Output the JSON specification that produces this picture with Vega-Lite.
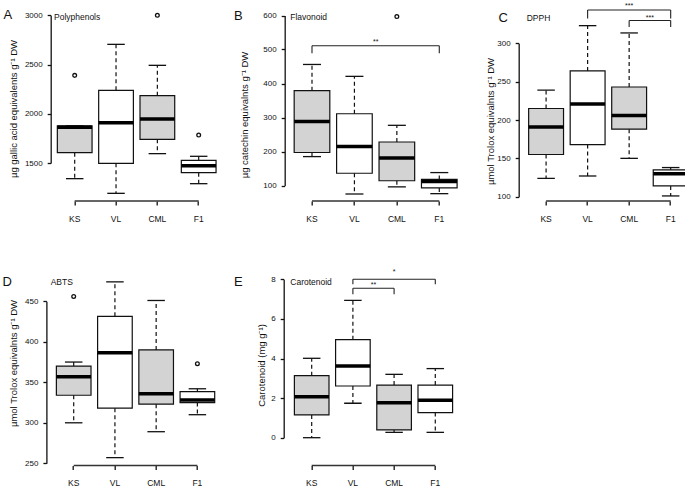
{
  "$schema": "https://vega.github.io/schema/vega-lite/v6.json",
  "background": "white",
  "padding": {"left": 1.7, "top": 0, "right": 0, "bottom": 0},
  "autosize": {"type": "pad"},
  "config": {
    "view": {"stroke": null},
    "font": "Liberation Sans",
    "axis": {"labelFont": "Liberation Sans", "titleFont": "Liberation Sans", "labelColor": "#111", "titleColor": "#111", "domainColor": "#111", "tickColor": "#111", "grid": false, "titleFontWeight": "normal"},
    "axisX": {"domain": false, "tickSize": 4, "tickWidth": 1.3, "labelFontSize": 8.5, "labelPadding": 9.5, "labelAngle": 0, "title": null},
    "axisY": {"domain": true, "domainWidth": 1.3, "tickSize": 3.5, "tickWidth": 1.3, "labelFontSize": 8, "labelPadding": 5, "format": "d", "titleFontSize": 9.5, "labelFlush": false, "labelOverlap": false, "titleBaseline": "middle", "titleAlign": "center"}
  },
  "datasets": {
    "boxes": [
      {"panel": "A", "g": "KS", "lower": 1341, "q1": 1605, "median": 1862, "q3": 1877, "upper": 1877},
      {"panel": "A", "g": "VL", "lower": 1192, "q1": 1497, "median": 1910, "q3": 2238, "upper": 2705},
      {"panel": "A", "g": "CML", "lower": 1595, "q1": 1740, "median": 1947, "q3": 2184, "upper": 2492},
      {"panel": "A", "g": "F1", "lower": 1290, "q1": 1402, "median": 1473, "q3": 1527, "upper": 1568},
      {"panel": "B", "g": "KS", "lower": 185, "q1": 197, "median": 288, "q3": 379, "upper": 456},
      {"panel": "B", "g": "VL", "lower": 75, "q1": 136, "median": 215, "q3": 311, "upper": 421},
      {"panel": "B", "g": "CML", "lower": 96, "q1": 114, "median": 181, "q3": 228, "upper": 277},
      {"panel": "B", "g": "F1", "lower": 76, "q1": 93, "median": 112, "q3": 118, "upper": 138},
      {"panel": "C", "g": "KS", "lower": 124, "q1": 155, "median": 191, "q3": 215, "upper": 239},
      {"panel": "C", "g": "VL", "lower": 127, "q1": 168, "median": 221, "q3": 264, "upper": 323},
      {"panel": "C", "g": "CML", "lower": 150, "q1": 188, "median": 206, "q3": 243, "upper": 313.5},
      {"panel": "C", "g": "F1", "lower": 101, "q1": 114, "median": 130, "q3": 135, "upper": 138},
      {"panel": "D", "g": "KS", "lower": 300, "q1": 334, "median": 357, "q3": 370, "upper": 375},
      {"panel": "D", "g": "VL", "lower": 257, "q1": 318, "median": 386.6, "q3": 431.5, "upper": 474},
      {"panel": "D", "g": "CML", "lower": 289, "q1": 323, "median": 336, "q3": 390, "upper": 451},
      {"panel": "D", "g": "F1", "lower": 310, "q1": 325, "median": 328, "q3": 338.5, "upper": 342},
      {"panel": "E", "g": "KS", "lower": 0, "q1": 1.15, "median": 2.07, "q3": 3.13, "upper": 4.01},
      {"panel": "E", "g": "VL", "lower": 1.74, "q1": 2.61, "median": 3.62, "q3": 4.95, "upper": 6.94},
      {"panel": "E", "g": "CML", "lower": 0.27, "q1": 0.39, "median": 1.77, "q3": 2.66, "upper": 3.2},
      {"panel": "E", "g": "F1", "lower": 0.27, "q1": 1.27, "median": 1.89, "q3": 2.66, "upper": 3.49}
    ],
    "outliers": [
      {"panel": "A", "g": "KS", "v": 2390},
      {"panel": "A", "g": "CML", "v": 3000},
      {"panel": "A", "g": "F1", "v": 1784},
      {"panel": "B", "g": "CML", "v": 597},
      {"panel": "D", "g": "KS", "v": 456},
      {"panel": "D", "g": "F1", "v": 373}
    ],
    "brackets": [
      {"panel": "B", "from": "KS", "to": "F1", "y": 511, "yEnd": 489},
      {"panel": "C", "from": "VL", "to": "F1", "y": 343.4, "yEnd": 332.3},
      {"panel": "C", "from": "CML", "to": "F1", "y": 329.7, "yEnd": 321.3},
      {"panel": "E", "from": "VL", "to": "F1", "y": 8.0, "yEnd": 7.75},
      {"panel": "E", "from": "VL", "to": "CML", "y": 7.55, "yEnd": 7.25}
    ]
  },
  "columns": 3,
  "spacing": {"row": 54, "column": 20},
  "bounds": "flush",
  "align": "all",
  "concat": [
    {
      "width": 213.7, "height": 201,
      "data": {"name": "boxes"},
      "transform": [{"filter": "datum.panel === 'A'"}],
      "layer": [
        {"mark": {"type": "bar", "stroke": "#111", "strokeWidth": 1.2},
         "encoding": {
           "x": {"field": "g", "type": "nominal", "scale": {"domain": ["KS", "VL", "CML", "F1"], "paddingInner": 0.16, "paddingOuter": 0.6653, "align": 0.1208, "round": false}, "axis": {"title": null}},
           "y": {"field": "q1", "type": "quantitative", "scale": {"domain": [1500, 3000], "range": [163, 15.3], "nice": false, "zero": false}, "axis": {"values": [1500, 2000, 2500, 3000], "title": "µg gallic acid equivalents g⁻¹ DW", "titleX": -37.5, "titleY": 108.5}},
           "y2": {"field": "q3"},
           "color": {"field": "g", "type": "nominal", "scale": {"domain": ["KS", "VL", "CML", "F1"], "range": ["#d3d3d3", "#ffffff", "#d3d3d3", "#ffffff"]}, "legend": null}}},
        {"mark": {"type": "rule", "color": "#111", "strokeWidth": 1.2, "strokeDash": [4, 3]},
         "encoding": {"x": {"field": "g", "type": "nominal"}, "y": {"field": "q3", "type": "quantitative"}, "y2": {"field": "upper"}}},
        {"mark": {"type": "rule", "color": "#111", "strokeWidth": 1.2, "strokeDash": [4, 3]},
         "encoding": {"x": {"field": "g", "type": "nominal"}, "y": {"field": "q1", "type": "quantitative"}, "y2": {"field": "lower"}}},
        {"mark": {"type": "tick", "orient": "horizontal", "color": "#111", "opacity": 1, "size": 17.5, "thickness": 1.3},
         "encoding": {"x": {"field": "g", "type": "nominal"}, "y": {"field": "upper", "type": "quantitative"}}},
        {"mark": {"type": "tick", "orient": "horizontal", "color": "#111", "opacity": 1, "size": 17.5, "thickness": 1.3},
         "encoding": {"x": {"field": "g", "type": "nominal"}, "y": {"field": "lower", "type": "quantitative"}}},
        {"mark": {"type": "tick", "orient": "horizontal", "color": "#000", "opacity": 1, "size": 34.7, "thickness": 3.5},
         "encoding": {"x": {"field": "g", "type": "nominal"}, "y": {"field": "median", "type": "quantitative"}}},
        {"data": {"name": "outliers"}, "transform": [{"filter": "datum.panel === 'A'"}],
         "mark": {"type": "point", "filled": false, "color": "#111", "opacity": 1, "size": 14, "strokeWidth": 1.3},
         "encoding": {"x": {"field": "g", "type": "nominal"}, "y": {"field": "v", "type": "quantitative"}}},
        {"data": {"values": [{}]},
         "mark": {"type": "rule", "color": "#333", "strokeWidth": 1.5},
         "encoding": {"x": {"datum": "KS", "type": "nominal"}, "x2": {"datum": "F1"}, "y": {"datum": 1114, "type": "quantitative"}}},
        {"data": {"values": [{}]},
         "mark": {"type": "text", "text": "A", "fontSize": 13, "align": "left", "baseline": "alphabetic", "color": "#111"},
         "encoding": {"x": {"datum": "KS", "type": "nominal", "bandPosition": -1.5536}, "y": {"datum": 2959.4, "type": "quantitative"}}},
        {"data": {"values": [{}]},
         "mark": {"type": "text", "text": "Polyphenols", "fontSize": 8.5, "align": "left", "baseline": "alphabetic", "color": "#111"},
         "encoding": {"x": {"datum": "KS", "type": "nominal", "bandPosition": -0.0962}, "y": {"datum": 2952.3, "type": "quantitative"}}}
      ]
    },
    {
      "width": 211.6, "height": 201,
      "data": {"name": "boxes"},
      "transform": [{"filter": "datum.panel === 'B'"}],
      "layer": [
        {"mark": {"type": "bar", "stroke": "#111", "strokeWidth": 1.2},
         "encoding": {
           "x": {"field": "g", "type": "nominal", "scale": {"domain": ["KS", "VL", "CML", "F1"], "paddingInner": 0.16, "paddingOuter": 0.5735, "align": 0.1948, "round": false}, "axis": {"title": null}},
           "y": {"field": "q1", "type": "quantitative", "scale": {"domain": [100, 600], "range": [185.5, 15.5], "nice": false, "zero": false}, "axis": {"values": [100, 200, 300, 400, 500, 600], "title": "µg catechin equivalnts  g⁻¹ DW", "titleX": -40, "titleY": 114.5}},
           "y2": {"field": "q3"},
           "color": {"field": "g", "type": "nominal", "scale": {"domain": ["KS", "VL", "CML", "F1"], "range": ["#d3d3d3", "#ffffff", "#d3d3d3", "#ffffff"]}, "legend": null}}},
        {"mark": {"type": "rule", "color": "#111", "strokeWidth": 1.2, "strokeDash": [4, 3]},
         "encoding": {"x": {"field": "g", "type": "nominal"}, "y": {"field": "q3", "type": "quantitative"}, "y2": {"field": "upper"}}},
        {"mark": {"type": "rule", "color": "#111", "strokeWidth": 1.2, "strokeDash": [4, 3]},
         "encoding": {"x": {"field": "g", "type": "nominal"}, "y": {"field": "q1", "type": "quantitative"}, "y2": {"field": "lower"}}},
        {"mark": {"type": "tick", "orient": "horizontal", "color": "#111", "opacity": 1, "size": 18, "thickness": 1.3},
         "encoding": {"x": {"field": "g", "type": "nominal"}, "y": {"field": "upper", "type": "quantitative"}}},
        {"mark": {"type": "tick", "orient": "horizontal", "color": "#111", "opacity": 1, "size": 18, "thickness": 1.3},
         "encoding": {"x": {"field": "g", "type": "nominal"}, "y": {"field": "lower", "type": "quantitative"}}},
        {"mark": {"type": "tick", "orient": "horizontal", "color": "#000", "opacity": 1, "size": 35.6, "thickness": 3.5},
         "encoding": {"x": {"field": "g", "type": "nominal"}, "y": {"field": "median", "type": "quantitative"}}},
        {"data": {"name": "outliers"}, "transform": [{"filter": "datum.panel === 'B'"}],
         "mark": {"type": "point", "filled": false, "color": "#111", "opacity": 1, "size": 14, "strokeWidth": 1.3},
         "encoding": {"x": {"field": "g", "type": "nominal"}, "y": {"field": "v", "type": "quantitative"}}},
        {"data": {"values": [{}]},
         "mark": {"type": "rule", "color": "#333", "strokeWidth": 1.5},
         "encoding": {"x": {"datum": "KS", "type": "nominal"}, "x2": {"datum": "F1"}, "y": {"datum": 54.4, "type": "quantitative"}}},
        {"data": {"name": "brackets"}, "transform": [{"filter": "datum.panel === 'B'"}],
         "mark": {"type": "rule", "color": "#222", "strokeWidth": 1.1},
         "encoding": {"x": {"field": "from", "type": "nominal"}, "x2": {"field": "to"}, "y": {"field": "y", "type": "quantitative"}}},
        {"data": {"name": "brackets"}, "transform": [{"filter": "datum.panel === 'B'"}, {"fold": ["from", "to"], "as": ["side", "at"]}],
         "mark": {"type": "rule", "color": "#222", "strokeWidth": 1.1},
         "encoding": {"x": {"field": "at", "type": "nominal"}, "y": {"field": "y", "type": "quantitative"}, "y2": {"field": "yEnd"}}},
        {"data": {"values": [{}]},
         "mark": {"type": "text", "text": "**", "fontSize": 7, "align": "center", "baseline": "alphabetic", "color": "#111"},
         "encoding": {"x": {"datum": "CML", "type": "nominal", "bandPosition": -0.0952}, "y": {"datum": 515, "type": "quantitative"}}},
        {"data": {"values": [{}]},
         "mark": {"type": "text", "text": "B", "fontSize": 13, "align": "left", "baseline": "alphabetic", "color": "#111"},
         "encoding": {"x": {"datum": "KS", "type": "nominal", "bandPosition": -1.689}, "y": {"datum": 586.8, "type": "quantitative"}}},
        {"data": {"values": [{}]},
         "mark": {"type": "text", "text": "Flavonoid", "fontSize": 8.5, "align": "left", "baseline": "alphabetic", "color": "#111"},
         "encoding": {"x": {"datum": "KS", "type": "nominal", "bandPosition": -0.109}, "y": {"datum": 586.8, "type": "quantitative"}}}
      ]
    },
    {
      "width": 169.5, "height": 201,
      "data": {"name": "boxes"},
      "transform": [{"filter": "datum.panel === 'C'"}],
      "layer": [
        {"mark": {"type": "bar", "stroke": "#111", "strokeWidth": 1.2},
         "encoding": {
           "x": {"field": "g", "type": "nominal", "scale": {"domain": ["KS", "VL", "CML", "F1"], "paddingInner": 0.16, "paddingOuter": 0.1207, "align": 0.9932, "round": false}, "axis": {"title": null}},
           "y": {"field": "q1", "type": "quantitative", "scale": {"domain": [100, 300], "range": [196.7, 43.3], "nice": false, "zero": false}, "axis": {"values": [100, 150, 200, 250, 300], "title": "µmol Trolox equivalnts  g⁻¹ DW", "titleX": -28.3, "titleY": 121}},
           "y2": {"field": "q3"},
           "color": {"field": "g", "type": "nominal", "scale": {"domain": ["KS", "VL", "CML", "F1"], "range": ["#d3d3d3", "#ffffff", "#d3d3d3", "#ffffff"]}, "legend": null}}},
        {"mark": {"type": "rule", "color": "#111", "strokeWidth": 1.2, "strokeDash": [4, 3]},
         "encoding": {"x": {"field": "g", "type": "nominal"}, "y": {"field": "q3", "type": "quantitative"}, "y2": {"field": "upper"}}},
        {"mark": {"type": "rule", "color": "#111", "strokeWidth": 1.2, "strokeDash": [4, 3]},
         "encoding": {"x": {"field": "g", "type": "nominal"}, "y": {"field": "q1", "type": "quantitative"}, "y2": {"field": "lower"}}},
        {"mark": {"type": "tick", "orient": "horizontal", "color": "#111", "opacity": 1, "size": 17.5, "thickness": 1.3},
         "encoding": {"x": {"field": "g", "type": "nominal"}, "y": {"field": "upper", "type": "quantitative"}}},
        {"mark": {"type": "tick", "orient": "horizontal", "color": "#111", "opacity": 1, "size": 17.5, "thickness": 1.3},
         "encoding": {"x": {"field": "g", "type": "nominal"}, "y": {"field": "lower", "type": "quantitative"}}},
        {"mark": {"type": "tick", "orient": "horizontal", "color": "#000", "opacity": 1, "size": 34.9, "thickness": 3.5},
         "encoding": {"x": {"field": "g", "type": "nominal"}, "y": {"field": "median", "type": "quantitative"}}},
        {"data": {"values": [{}]},
         "mark": {"type": "rule", "color": "#333", "strokeWidth": 1.5},
         "encoding": {"x": {"datum": "KS", "type": "nominal"}, "x2": {"datum": "F1"}, "y": {"datum": 94.4, "type": "quantitative"}}},
        {"data": {"name": "brackets"}, "transform": [{"filter": "datum.panel === 'C'"}],
         "mark": {"type": "rule", "color": "#222", "strokeWidth": 1.1},
         "encoding": {"x": {"field": "from", "type": "nominal"}, "x2": {"field": "to"}, "y": {"field": "y", "type": "quantitative"}}},
        {"data": {"name": "brackets"}, "transform": [{"filter": "datum.panel === 'C'"}, {"fold": ["from", "to"], "as": ["side", "at"]}],
         "mark": {"type": "rule", "color": "#222", "strokeWidth": 1.1},
         "encoding": {"x": {"field": "at", "type": "nominal"}, "y": {"field": "y", "type": "quantitative"}, "y2": {"field": "yEnd"}}},
        {"data": {"values": [{}]},
         "mark": {"type": "text", "text": "***", "fontSize": 7, "align": "center", "baseline": "alphabetic", "color": "#111"},
         "encoding": {"x": {"datum": "CML", "type": "nominal", "bandPosition": 0.5}, "y": {"datum": 346, "type": "quantitative"}}},
        {"data": {"values": [{}]},
         "mark": {"type": "text", "text": "***", "fontSize": 7, "align": "center", "baseline": "alphabetic", "color": "#111"},
         "encoding": {"x": {"datum": "F1", "type": "nominal", "bandPosition": -0.0952}, "y": {"datum": 331, "type": "quantitative"}}},
        {"data": {"values": [{}]},
         "mark": {"type": "text", "text": "C", "fontSize": 13, "align": "left", "baseline": "alphabetic", "color": "#111"},
         "encoding": {"x": {"datum": "KS", "type": "nominal", "bandPosition": -0.867}, "y": {"datum": 328.4, "type": "quantitative"}}},
        {"data": {"values": [{}]},
         "mark": {"type": "text", "text": "DPPH", "fontSize": 8.5, "align": "left", "baseline": "alphabetic", "color": "#111"},
         "encoding": {"x": {"datum": "KS", "type": "nominal", "bandPosition": -0.056}, "y": {"datum": 329.7, "type": "quantitative"}}}
      ]
    },
    {
      "width": 213.7, "height": 205.5,
      "data": {"name": "boxes"},
      "transform": [{"filter": "datum.panel === 'D'"}],
      "layer": [
        {"mark": {"type": "bar", "stroke": "#111", "strokeWidth": 1.2},
         "encoding": {
           "x": {"field": "g", "type": "nominal", "scale": {"domain": ["KS", "VL", "CML", "F1"], "paddingInner": 0.16, "paddingOuter": 0.6716, "align": 0.1026, "round": false}, "axis": {"title": null}},
           "y": {"field": "q1", "type": "quantitative", "scale": {"domain": [250, 450], "range": [203.3, 41.3], "nice": false, "zero": false}, "axis": {"values": [250, 300, 350, 400, 450], "offset": 4.3, "title": "µmol Trolox equivalnts  g⁻¹ DW", "titleX": -32.7, "titleY": 103}},
           "y2": {"field": "q3"},
           "color": {"field": "g", "type": "nominal", "scale": {"domain": ["KS", "VL", "CML", "F1"], "range": ["#d3d3d3", "#ffffff", "#d3d3d3", "#ffffff"]}, "legend": null}}},
        {"mark": {"type": "rule", "color": "#111", "strokeWidth": 1.2, "strokeDash": [4, 3]},
         "encoding": {"x": {"field": "g", "type": "nominal"}, "y": {"field": "q3", "type": "quantitative"}, "y2": {"field": "upper"}}},
        {"mark": {"type": "rule", "color": "#111", "strokeWidth": 1.2, "strokeDash": [4, 3]},
         "encoding": {"x": {"field": "g", "type": "nominal"}, "y": {"field": "q1", "type": "quantitative"}, "y2": {"field": "lower"}}},
        {"mark": {"type": "tick", "orient": "horizontal", "color": "#111", "opacity": 1, "size": 17.5, "thickness": 1.3},
         "encoding": {"x": {"field": "g", "type": "nominal"}, "y": {"field": "upper", "type": "quantitative"}}},
        {"mark": {"type": "tick", "orient": "horizontal", "color": "#111", "opacity": 1, "size": 17.5, "thickness": 1.3},
         "encoding": {"x": {"field": "g", "type": "nominal"}, "y": {"field": "lower", "type": "quantitative"}}},
        {"mark": {"type": "tick", "orient": "horizontal", "color": "#000", "opacity": 1, "size": 34.6, "thickness": 3.5},
         "encoding": {"x": {"field": "g", "type": "nominal"}, "y": {"field": "median", "type": "quantitative"}}},
        {"data": {"name": "outliers"}, "transform": [{"filter": "datum.panel === 'D'"}],
         "mark": {"type": "point", "filled": false, "color": "#111", "opacity": 1, "size": 14, "strokeWidth": 1.3},
         "encoding": {"x": {"field": "g", "type": "nominal"}, "y": {"field": "v", "type": "quantitative"}}},
        {"data": {"values": [{}]},
         "mark": {"type": "rule", "color": "#333", "strokeWidth": 1.5},
         "encoding": {"x": {"datum": "KS", "type": "nominal"}, "x2": {"datum": "F1"}, "y": {"datum": 247.3, "type": "quantitative"}}},
        {"data": {"values": [{}]},
         "mark": {"type": "text", "text": "D", "fontSize": 13, "align": "left", "baseline": "alphabetic", "color": "#111"},
         "encoding": {"x": {"datum": "KS", "type": "nominal", "bandPosition": -1.559}, "y": {"datum": 469.5, "type": "quantitative"}}},
        {"data": {"values": [{}]},
         "mark": {"type": "text", "text": "ABTS", "fontSize": 8.5, "align": "left", "baseline": "alphabetic", "color": "#111"},
         "encoding": {"x": {"datum": "KS", "type": "nominal", "bandPosition": -0.164}, "y": {"datum": 470.1, "type": "quantitative"}}}
      ]
    },
    {
      "width": 211.6, "height": 205.5,
      "data": {"name": "boxes"},
      "transform": [{"filter": "datum.panel === 'E'"}],
      "layer": [
        {"mark": {"type": "bar", "stroke": "#111", "strokeWidth": 1.2},
         "encoding": {
           "x": {"field": "g", "type": "nominal", "scale": {"domain": ["KS", "VL", "CML", "F1"], "paddingInner": 0.16, "paddingOuter": 0.648, "align": 0.1816, "round": false}, "axis": {"title": null}},
           "y": {"field": "q1", "type": "quantitative", "scale": {"domain": [0, 8], "range": [177.7, 19.3], "nice": false, "zero": false}, "axis": {"values": [0, 2, 4, 6, 8], "offset": 1, "title": "Carotenoid (mg g⁻¹)", "titleX": -21.7, "titleY": 105}},
           "y2": {"field": "q3"},
           "color": {"field": "g", "type": "nominal", "scale": {"domain": ["KS", "VL", "CML", "F1"], "range": ["#d3d3d3", "#ffffff", "#d3d3d3", "#ffffff"]}, "legend": null}}},
        {"mark": {"type": "rule", "color": "#111", "strokeWidth": 1.2, "strokeDash": [4, 3]},
         "encoding": {"x": {"field": "g", "type": "nominal"}, "y": {"field": "q3", "type": "quantitative"}, "y2": {"field": "upper"}}},
        {"mark": {"type": "rule", "color": "#111", "strokeWidth": 1.2, "strokeDash": [4, 3]},
         "encoding": {"x": {"field": "g", "type": "nominal"}, "y": {"field": "q1", "type": "quantitative"}, "y2": {"field": "lower"}}},
        {"mark": {"type": "tick", "orient": "horizontal", "color": "#111", "opacity": 1, "size": 17.5, "thickness": 1.3},
         "encoding": {"x": {"field": "g", "type": "nominal"}, "y": {"field": "upper", "type": "quantitative"}}},
        {"mark": {"type": "tick", "orient": "horizontal", "color": "#111", "opacity": 1, "size": 17.5, "thickness": 1.3},
         "encoding": {"x": {"field": "g", "type": "nominal"}, "y": {"field": "lower", "type": "quantitative"}}},
        {"mark": {"type": "tick", "orient": "horizontal", "color": "#000", "opacity": 1, "size": 34.6, "thickness": 3.5},
         "encoding": {"x": {"field": "g", "type": "nominal"}, "y": {"field": "median", "type": "quantitative"}}},
        {"data": {"values": [{}]},
         "mark": {"type": "rule", "color": "#333", "strokeWidth": 1.5},
         "encoding": {"x": {"datum": "KS", "type": "nominal"}, "x2": {"datum": "F1"}, "y": {"datum": -1.404, "type": "quantitative"}}},
        {"data": {"name": "brackets"}, "transform": [{"filter": "datum.panel === 'E'"}],
         "mark": {"type": "rule", "color": "#222", "strokeWidth": 1.1},
         "encoding": {"x": {"field": "from", "type": "nominal"}, "x2": {"field": "to"}, "y": {"field": "y", "type": "quantitative"}}},
        {"data": {"name": "brackets"}, "transform": [{"filter": "datum.panel === 'E'"}, {"fold": ["from", "to"], "as": ["side", "at"]}],
         "mark": {"type": "rule", "color": "#222", "strokeWidth": 1.1},
         "encoding": {"x": {"field": "at", "type": "nominal"}, "y": {"field": "y", "type": "quantitative"}, "y2": {"field": "yEnd"}}},
        {"data": {"values": [{}]},
         "mark": {"type": "text", "text": "*", "fontSize": 7, "align": "center", "baseline": "alphabetic", "color": "#111"},
         "encoding": {"x": {"datum": "CML", "type": "nominal", "bandPosition": 0.5}, "y": {"datum": 8.27, "type": "quantitative"}}},
        {"data": {"values": [{}]},
         "mark": {"type": "text", "text": "**", "fontSize": 7, "align": "center", "baseline": "alphabetic", "color": "#111"},
         "encoding": {"x": {"datum": "CML", "type": "nominal", "bandPosition": -0.0952}, "y": {"datum": 7.62, "type": "quantitative"}}},
        {"data": {"values": [{}]},
         "mark": {"type": "text", "text": "E", "fontSize": 13, "align": "left", "baseline": "alphabetic", "color": "#111"},
         "encoding": {"x": {"datum": "KS", "type": "nominal", "bandPosition": -1.745}, "y": {"datum": 7.662, "type": "quantitative"}}},
        {"data": {"values": [{}]},
         "mark": {"type": "text", "text": "Carotenoid", "fontSize": 8.5, "align": "left", "baseline": "alphabetic", "color": "#111"},
         "encoding": {"x": {"datum": "KS", "type": "nominal", "bandPosition": -0.118}, "y": {"datum": 7.712, "type": "quantitative"}}}
      ]
    }
  ]
}
